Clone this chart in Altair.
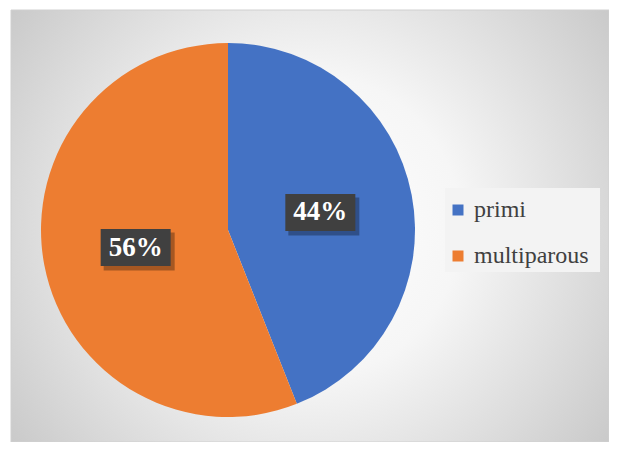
import altair as alt
import pandas as pd

categories = ["primi", "multiparous"]
values = [44, 56]
labels = ["44%", "56%"]
colors = ["#4472C4", "#ED7D31"]
order = [0, 1]

df = pd.DataFrame({"category": categories, "value": values, "label": labels, "order": order})

W, H = 598, 432
CX, CY, R = 217, 220, 187
LR = 94
FONT = "Times New Roman"

bg = alt.Chart(pd.DataFrame({"a": [0]})).mark_rect(
    fill={
        "gradient": "radial",
        "stops": [
            {"offset": 0, "color": "#ffffff"},
            {"offset": 0.35, "color": "#f6f6f6"},
            {"offset": 1, "color": "#bdbdbd"},
        ],
        "x1": 0.5, "y1": 0.5, "r1": 0,
        "x2": 0.5, "y2": 0.5, "r2": 0.72,
    },
    stroke="#d0d0d0",
    strokeWidth=1,
).encode(x=alt.value(0), x2=alt.value(W), y=alt.value(0), y2=alt.value(H))

legend_box = alt.Chart(pd.DataFrame({"a": [0]})).mark_rect(
    color="#f3f3f3"
).encode(x=alt.value(434), x2=alt.value(589), y=alt.value(178), y2=alt.value(262))

pie = alt.Chart(df).mark_arc(outerRadius=R).encode(
    theta=alt.Theta("value:Q", stack=True),
    color=alt.Color(
        "category:N",
        scale=alt.Scale(domain=categories, range=colors),
        sort=categories,
        legend=alt.Legend(
            title=None, orient="none", legendX=426, legendY=179,
            symbolType="square", symbolSize=121, symbolStrokeWidth=0,
            labelFont=FONT, labelFontSize=24, labelColor="#404040",
            rowPadding=22, labelOffset=4, padding=9,
        ),
    ),
    order=alt.Order("order:Q"),
    x=alt.value(CX),
    y=alt.value(CY),
)

base = alt.Chart(df).transform_joinaggregate(
    total="sum(value)"
).transform_window(
    cum="sum(value)", sort=[alt.SortField("order")], frame=[None, 0]
).transform_calculate(
    mid="(datum.cum - datum.value/2)/datum.total*2*PI",
    lx=f"{CX} + {LR}*sin(datum.mid)",
    ly=f"{CY} - {LR}*cos(datum.mid)",
    bx1="datum.lx - 35", bx2="datum.lx + 35",
    by1="datum.ly - 18.5", by2="datum.ly + 18.5",
    sx1="datum.lx - 32", sx2="datum.lx + 39",
    sy1="datum.ly - 15", sy2="datum.ly + 23",
)

shadow = base.mark_rect(color="#000000", opacity=0.3).encode(
    x=alt.X("sx1:Q", scale=None, axis=None), x2="sx2:Q",
    y=alt.Y("sy1:Q", scale=None, axis=None), y2="sy2:Q",
)
box = base.mark_rect(color="#404040").encode(
    x=alt.X("bx1:Q", scale=None, axis=None), x2="bx2:Q",
    y=alt.Y("by1:Q", scale=None, axis=None), y2="by2:Q",
)
text = base.mark_text(
    font=FONT, fontWeight="bold", fontSize=27, color="white", baseline="middle"
).encode(
    x=alt.X("lx:Q", scale=None, axis=None),
    y=alt.Y("ly:Q", scale=None, axis=None),
    text="label:N",
)

chart = alt.layer(bg, legend_box, pie, shadow, box, text).properties(
    width=W, height=H,
    padding={"left": 3, "top": 2, "right": 0, "bottom": 0},
    autosize=alt.AutoSizeParams(type="none"),
).configure_view(stroke=None)

chart.save("out.html", embed_options={"renderer": "svg", "actions": False})
